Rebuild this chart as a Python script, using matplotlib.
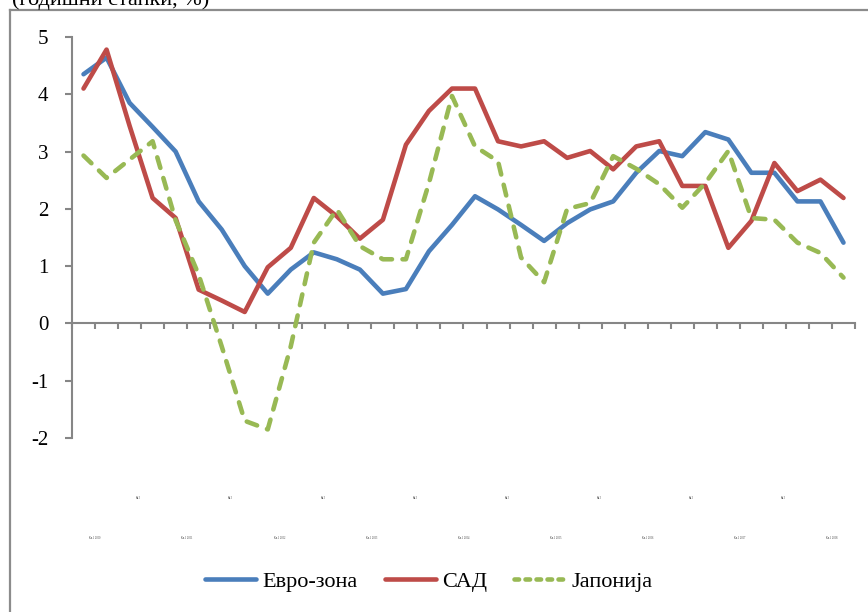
import matplotlib
matplotlib.use("Agg")
import matplotlib.pyplot as plt
from matplotlib.lines import Line2D

# Real GDP growth, year-on-year (%), quarterly, Q1 2000 - Q2 2008
quarters = list(range(34))
euro_zone = [4.35, 4.64, 3.85, 3.43, 3.0, 2.13, 1.64, 1.0, 0.52, 0.94,
             1.24, 1.12, 0.94, 0.52, 0.6, 1.26, 1.72, 2.22, 1.99, 1.72,
             1.44, 1.75, 1.99, 2.13, 2.63, 3.01, 2.92, 3.34, 3.21, 2.63,
             2.63, 2.13, 2.13, 1.41]
usa = [4.1, 4.78, 3.45, 2.19, 1.84, 0.59, 0.4, 0.2, 0.98, 1.32,
       2.19, 1.87, 1.48, 1.81, 3.12, 3.71, 4.1, 4.1, 3.18, 3.09,
       3.18, 2.89, 3.01, 2.69, 3.09, 3.18, 2.4, 2.4, 1.32, 1.79,
       2.8, 2.31, 2.51, 2.19]
japan = [2.93, 2.54, 2.86, 3.18, 1.8, 0.85, -0.4, -1.7, -1.85, -0.4,
         1.41, 1.99, 1.35, 1.12, 1.12, 2.45, 3.97, 3.09, 2.83, 1.15,
         0.72, 2.0, 2.1, 2.92, 2.7, 2.43, 2.02, 2.45, 3.01, 1.84,
         1.81, 1.41, 1.23, 0.8]
years = [str(y) for y in range(2000, 2009)]
series_names = ["Евро-зона", "САД", "Јапонија"]
y_ticks = [-2, -1, 0, 1, 2, 3, 4, 5]

BLUE = "#4A7EBB"
RED = "#BE4B48"
GREEN = "#98B954"
GRAY = "#868686"
SERIF = ["Liberation Serif", "DejaVu Serif"]

W, H = 868, 612
fig = plt.figure(figsize=(W / 100, H / 100), dpi=100)
fig.patch.set_facecolor("white")

# outer chart frame (left and top edges visible)
fig.add_artist(Line2D([10 / W, 10 / W], [0, 1 - 10 / H], transform=fig.transFigure,
                      color="#8C8C8C", lw=1.6))
fig.add_artist(Line2D([10 / W, 1], [1 - 10 / H, 1 - 10 / H], transform=fig.transFigure,
                      color="#8C8C8C", lw=1.6))

fig.text(12 / W, 1 - 5 / H, "(годишни стапки, %)", fontsize=16, family=SERIF,
         va="baseline", ha="left")

ax = fig.add_axes([72 / W, 1 - 438 / H, (855 - 72) / W, (438 - 37) / H])
ax.plot(quarters, euro_zone, color=BLUE, lw=3.3, solid_capstyle="round",
        solid_joinstyle="round", zorder=3)
ax.plot(quarters, usa, color=RED, lw=3.3, solid_capstyle="round",
        solid_joinstyle="round", zorder=4)
ax.plot(quarters, japan, color=GREEN, lw=3.3, linestyle=(0, (2.4, 2.3)),
        dash_capstyle="round", zorder=5)

ax.set_xlim(-0.5, 33.5)
ax.set_ylim(-2, 5)
for s in ["top", "right"]:
    ax.spines[s].set_visible(False)
ax.spines["bottom"].set_position(("data", 0))
for s in ["left", "bottom"]:
    ax.spines[s].set_color(GRAY)
    ax.spines[s].set_linewidth(1.5)

ax.set_xticks([q - 0.5 for q in quarters] + [33.5])
ax.set_xticklabels([])
ax.set_yticks(y_ticks)
ax.set_yticklabels([str(v) for v in y_ticks], family=SERIF, fontsize=15)
ax.tick_params(axis="x", direction="out", length=4, width=1.5, color=GRAY)
ax.tick_params(axis="y", direction="out", length=5, width=1.5, color=GRAY, pad=12)

# tiny category labels below the plot, staggered on two rows
for k, yr in enumerate(years):
    q = 4 * k
    ax.text(q + 0.5, -3.75, f"Кв.1 {yr}", fontsize=2, family=SERIF,
            ha="center", va="center", color="#444444", clip_on=False)
    if q + 2 < len(quarters):
        ax.text(q + 2.4, -3.05, "Кв.3", fontsize=2, family=SERIF,
                ha="center", va="center", color="#444444", clip_on=False)

handles = [
    Line2D([], [], color=BLUE, lw=3.3, solid_capstyle="round"),
    Line2D([], [], color=RED, lw=3.3, solid_capstyle="round"),
    Line2D([], [], color=GREEN, lw=3.3, linestyle=(0, (1.0, 1.4)), dash_capstyle="round"),
]
fig.legend(handles, series_names, loc="center", bbox_to_anchor=(429 / W, 1 - 582 / H),
           ncol=3, frameon=False, prop={"family": SERIF, "size": 16},
           handlelength=2.3, handletextpad=0.3, columnspacing=1.2)

fig.savefig("out.png", dpi=100, facecolor="white")
